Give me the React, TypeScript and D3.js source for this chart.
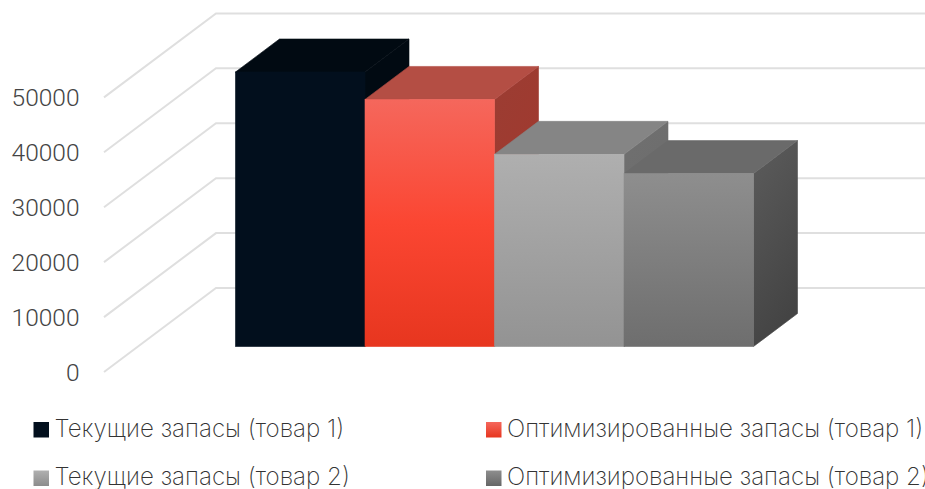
import { useEffect, useRef } from 'react';
import * as d3 from 'd3';

const seriesLabels = [
  'Текущие запасы (товар 1)',
  'Оптимизированные запасы (товар 1)',
  'Текущие запасы (товар 2)',
  'Оптимизированные запасы (товар 2)',
];
const seriesValues = [50000, 45000, 35000, 31500];
const tickValues = [0, 10000, 20000, 30000, 40000, 50000];

const labelFont = 'Inter, "Noto Sans", sans-serif';
const tickFont = 'Roboto, "Noto Sans", sans-serif';

// face colours per series: front gradient, top, side gradient
const faces = [
  { front: ['#020f1d', '#020f1d'], top: '#010a12', side: ['#010a12', '#010a12'], legendFront: ['#020f1d', '#020f1d'] },
  { front: ['#f5675c', '#fb4632', '#e7361f'], top: '#b44e44', side: ['#9b3d33', '#a4372c'], legendFront: ['#f5675c', '#e7361f'] },
  { front: ['#afafaf', '#939393'], top: '#858585', side: ['#707070', '#6a6a6a'], legendFront: ['#b0b0b0', '#8c8c8c'] },
  { front: ['#8e8e8e', '#6e6e6e'], top: '#6a6a6a', side: ['#5c5c5c', '#444444'], legendFront: ['#8e8e8e', '#666666'] },
];

export default function App() {
  const svgRef = useRef<SVGSVGElement>(null);

  useEffect(() => {
    if (!svgRef.current) return;

    const svg = d3.select(svgRef.current);
    svg.selectAll('*').remove();

    const width = 925;

    const floorFront = 346.5; // bar base
    const wallLeft = 104;
    const wallBack = 216;
    const axisFloor = 372;
    const gridFloor = 288;
    const barDx = 44;
    const barDy = 33;

    // Scales
    const barHeight = d3.scaleLinear().domain([0, 50000]).range([0, 274.5]);
    const tickHeight = d3.scaleLinear().domain([0, 50000]).range([0, 274.6]);
    const xScale = d3.scaleBand<number>()
      .domain(seriesValues.map((_, i) => i))
      .range([235.5, 753.5]);

    // Gradients
    const defs = svg.append('defs');
    const addGradient = (id: string, stops: string[], diagonal = false) => {
      const grad = defs.append('linearGradient')
        .attr('id', id)
        .attr('x1', 0).attr('y1', 0)
        .attr('x2', diagonal ? 0.3 : 0).attr('y2', 1);
      stops.forEach((c, i) => {
        grad.append('stop')
          .attr('offset', i / (stops.length - 1))
          .attr('stop-color', c);
      });
    };
    faces.forEach((f, i) => {
      addGradient(`front-${i}`, f.front);
      addGradient(`side-${i}`, f.side, true);
      addGradient(`legend-${i}`, f.legendFront);
    });

    // Grid lines
    const gridPath = (t: number) => {
      const h = tickHeight(t);
      return `M${wallLeft},${axisFloor - h}L${wallBack},${gridFloor - h}L${width},${gridFloor - h}`;
    };
    svg.append('g')
      .selectAll('path')
      .data(tickValues)
      .enter()
      .append('path')
      .attr('d', gridPath)
      .attr('fill', 'none')
      .attr('stroke', '#dfdfdf')
      .attr('stroke-width', 2);

    // Y labels
    svg.append('g')
      .selectAll('text')
      .data(tickValues)
      .enter()
      .append('text')
      .attr('x', 79.5)
      .attr('y', d => axisFloor - tickHeight(d) + 8.5)
      .attr('text-anchor', 'end')
      .attr('font-family', tickFont)
      .attr('font-weight', 300)
      .attr('font-size', 24.5)
      .attr('fill', '#444')
      .text(d => String(d));

    // Bars, left to right so each covers the side of the previous one
    seriesValues.forEach((v, i) => {
      const x0 = xScale(i) as number;
      const x1 = x0 + xScale.bandwidth();
      const yTop = floorFront - barHeight(v);
      const g = svg.append('g');

      g.append('path')
        .attr('d', `M${x1},${yTop}L${x1 + barDx},${yTop - barDy}L${x1 + barDx},${floorFront - barDy}L${x1},${floorFront}Z`)
        .attr('fill', `url(#side-${i})`)
        .attr('stroke', `url(#side-${i})`)
        .attr('stroke-width', 0.6);

      g.append('path')
        .attr('d', `M${x0},${yTop}L${x0 + barDx},${yTop - barDy}L${x1 + barDx},${yTop - barDy}L${x1},${yTop}Z`)
        .attr('fill', faces[i].top)
        .attr('stroke', faces[i].top)
        .attr('stroke-width', 0.6);

      g.append('rect')
        .attr('x', x0)
        .attr('y', yTop)
        .attr('width', xScale.bandwidth())
        .attr('height', barHeight(v))
        .attr('fill', `url(#front-${i})`)
        .attr('stroke', `url(#front-${i})`)
        .attr('stroke-width', 0.6);
    });

    // Legend
    const legendCols = [33.5, 486];
    const legendRows = [422, 470.5];
    seriesLabels.forEach((label, i) => {
      const lx = legendCols[i % 2];
      const ly = legendRows[Math.floor(i / 2)];
      svg.append('rect')
        .attr('x', lx)
        .attr('y', ly)
        .attr('width', 15.5)
        .attr('height', 15.5)
        .attr('fill', `url(#legend-${i})`);
      svg.append('text')
        .attr('x', lx + 21)
        .attr('y', ly + 14.5)
        .attr('font-family', labelFont)
        .attr('font-weight', 200)
        .attr('font-size', 24.1)
        .attr('fill', '#333')
        .text(label);
    });
  }, []);

  return (
    <svg
      ref={svgRef}
      width={925}
      height={489}
      viewBox="0 0 925 489"
      style={{ position: 'absolute', left: 0, top: 0, background: '#fff' }}
    />
  );
}
